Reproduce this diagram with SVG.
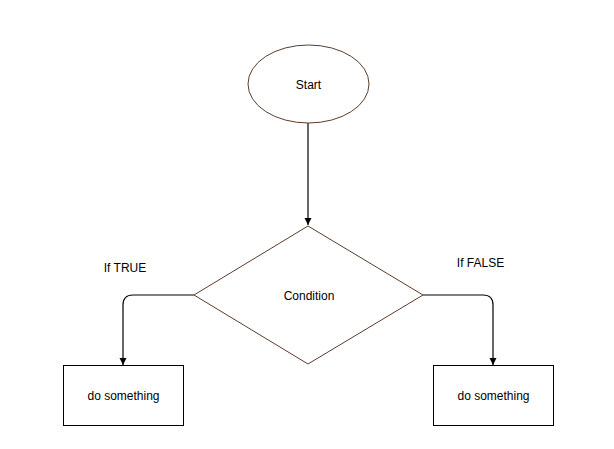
<svg xmlns="http://www.w3.org/2000/svg" width="614" height="449" viewBox="0 0 614 449">
<defs>
<marker id="arr" markerWidth="8" markerHeight="8" refX="7" refY="4" orient="auto" markerUnits="userSpaceOnUse">
<path d="M0,0.5 L7,4 L0,7.5 Z" fill="#000"/>
</marker>
<style>
.shape{fill:#fff;stroke:#5a3d2b;stroke-width:1}
.box{fill:#fff;stroke:#000;stroke-width:1}
.conn{fill:none;stroke:#000;stroke-width:1.2}
text{font-family:"Liberation Sans",Arial,sans-serif;font-size:12px;fill:#000;text-anchor:middle;dominant-baseline:central}
</style>
</defs>
<rect width="614" height="449" fill="#fff"/>
<g id="connectors">
<path class="conn" d="M308,123 V225" marker-end="url(#arr)"/>
<path class="conn" d="M194,295 H133 Q123,295 123,305 V365" marker-end="url(#arr)"/>
<path class="conn" d="M423,295 H483 Q493,295 493,305 V365" marker-end="url(#arr)"/>
</g>
<g id="start">
<ellipse class="shape" cx="308.5" cy="84" rx="60.5" ry="39"/>
<text x="308.5" y="85">Start</text>
</g>
<g id="condition">
<polygon class="shape" points="308,226 423,295 308,364 194,295"/>
<text x="309" y="296">Condition</text>
</g>
<g id="true-box">
<rect class="box" x="63.5" y="365.5" width="120" height="60"/>
<text x="123.5" y="395.5">do something</text>
</g>
<g id="false-box">
<rect class="box" x="433.5" y="365.5" width="120" height="60"/>
<text x="493.5" y="395.5">do something</text>
</g>
<g id="labels">
<text x="125" y="268">If TRUE</text>
<text x="480.5" y="263">If FALSE</text>
</g>
</svg>
